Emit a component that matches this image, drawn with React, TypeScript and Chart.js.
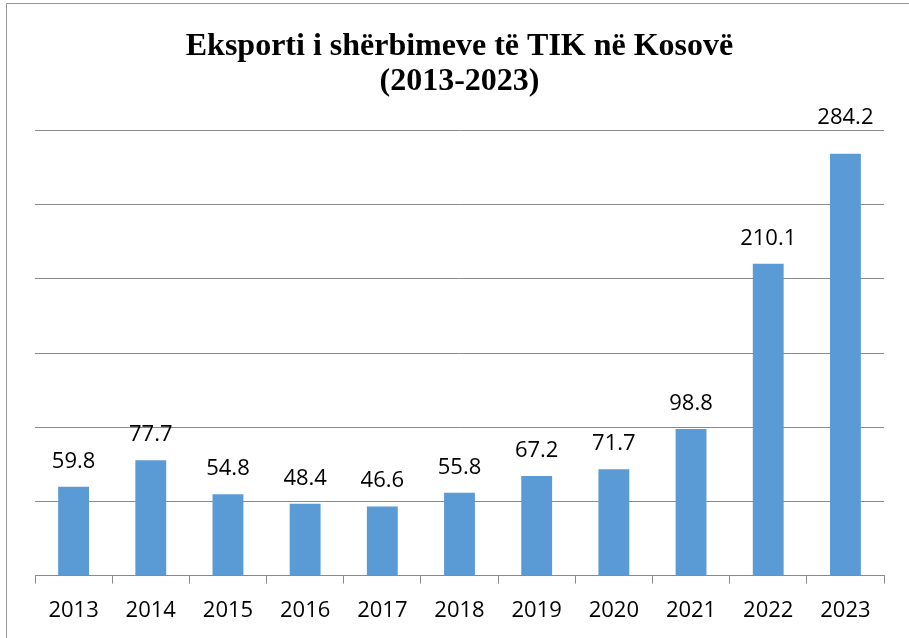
import React, { useEffect, useRef } from "react";
import { Chart, registerables } from "chart.js";

Chart.register(...registerables);

const years = ["2013", "2014", "2015", "2016", "2017", "2018", "2019", "2020", "2021", "2022", "2023"];
const exportValues = [59.8, 77.7, 54.8, 48.4, 46.6, 55.8, 67.2, 71.7, 98.8, 210.1, 284.2];
const titleLines = ["Eksporti i shërbimeve të TIK në Kosovë", "(2013-2023)"];
const yMax = 300;
const yStep = 50;

const LABEL_FONT = "22px 'Open Sans'";
const GRID = "#8a8a8a";

const valueLabels = {
  id: "valueLabels",
  afterDatasetsDraw(chart: any) {
    const ctx = chart.ctx;
    const meta = chart.getDatasetMeta(0);
    const ds = chart.data.datasets[0];
    ctx.save();
    ctx.font = LABEL_FONT;
    ctx.fillStyle = "#000";
    ctx.textAlign = "center";
    ctx.textBaseline = "alphabetic";
    meta.data.forEach((bar: any, i: number) => {
      let y = bar.y - 19;
      if (y > chart.chartArea.top - 2 && y - 16 < chart.chartArea.top + 2) {
        y = chart.chartArea.top - 6;
      }
      ctx.fillText(String(ds.data[i].toFixed(1)), bar.x, y);
    });
    ctx.restore();
  },
};

export default function App() {
  const ref = useRef<HTMLCanvasElement>(null);
  useEffect(() => {
    if (!ref.current) return;
    const chart = new Chart(ref.current, {
      type: "bar",
      data: {
        labels: years,
        datasets: [
          {
            data: exportValues,
            backgroundColor: "#5B9BD5",
            borderWidth: 0,
            barPercentage: 0.4,
            categoryPercentage: 1,
          },
        ],
      },
      options: {
        responsive: false,
        animation: false,
        layout: { padding: { left: 35, right: 25, top: 0, bottom: 0 } },
        plugins: {
          legend: { display: false },
          tooltip: { enabled: false },
          title: {
            display: true,
            text: titleLines,
            color: "#000",
            font: { family: "'Liberation Serif'", size: 32, weight: "bold", lineHeight: 1.1 },
            padding: { top: 29, bottom: 31 },
          },
        },
        scales: {
          x: {
            grid: {
              display: true,
              drawOnChartArea: false,
              drawTicks: true,
              tickLength: 8,
              color: GRID,
              offset: true,
            },
            border: { display: true, color: GRID, width: 1 },
            ticks: {
              color: "#000",
              font: { family: "'Open Sans'", size: 22 },
              padding: 14,
              maxRotation: 0,
            },
          },
          y: {
            min: 0,
            max: yMax,
            ticks: { display: false, stepSize: yStep },
            grid: { color: GRID, drawTicks: false, lineWidth: 1 },
            border: { display: false },
          },
        },
      },
      plugins: [valueLabels],
    });
    return () => chart.destroy();
  }, []);
  return (
    <div style={{ position: "fixed", left: 0, top: 0, width: 909, height: 638, background: "#fff", overflow: "hidden" }}>
      <div
        style={{
          position: "absolute",
          left: 6,
          top: 3,
          width: 920,
          height: 660,
          borderLeft: "1px solid #999",
          borderTop: "1px solid #999",
        }}
      />
      <canvas ref={ref} width={909} height={638} style={{ position: "absolute", left: 0, top: 0, display: "block" }} />
    </div>
  );
}
